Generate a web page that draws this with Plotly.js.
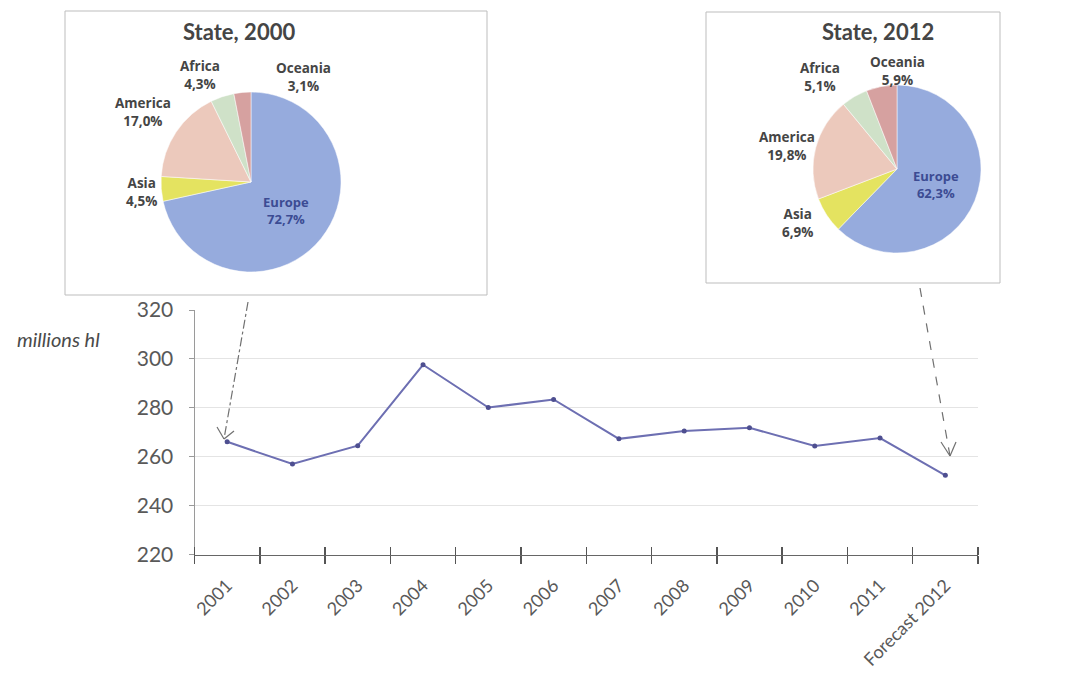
<!DOCTYPE html>
<html>
<head>
<meta charset="utf-8">
<script src="https://cdn.plot.ly/plotly-3.0.1.min.js"></script>
<style>
  html, body { margin: 0; padding: 0; background: #ffffff; }
  #chart { width: 1068px; height: 677px; }
</style>
</head>
<body>
<div id="chart"></div>
<script>
// World wine production, millions of hectolitres
const years = ['2001', '2002', '2003', '2004', '2005', '2006', '2007', '2008', '2009', '2010', '2011', 'Forecast 2012'];
const productionMhl = [266.1, 257.0, 264.5, 297.6, 280.1, 283.4, 267.3, 270.5, 271.8, 264.4, 267.6, 252.4];
const yTicks = [220, 240, 260, 280, 300, 320];

// Regional shares (%) for the two inset pies
const regions = ['Europe', 'Asia', 'America', 'Africa', 'Oceania'];
const share2000 = [72.7, 4.5, 17.0, 4.3, 3.1];
const share2012 = [62.3, 6.9, 19.8, 5.1, 5.9];
const regionColors = ['#96abdd', '#e4e360', '#ecc9bc', '#cfe1c8', '#d6a1a0'];

const W = 1068, H = 677;
const px = x => x / W;            // pixel -> paper x
const py = y => 1 - y / H;        // pixel -> paper y
const pct = v => v.toFixed(1).replace('.', ',') + '%';

const textGrey = '#454545';
const axisGrey = '#595959';
const labelFont = { family: 'Open Sans, DejaVu Sans, sans-serif', size: 13.5, color: textGrey };

// Placement of the outside slice labels in each inset (pixel centres)
const labelSpots2000 = { Asia: [141, 192], America: [143, 112], Africa: [200, 75], Oceania: [303, 77] };
const labelSpots2012 = { Asia: [797, 223], America: [787, 146], Africa: [820, 77], Oceania: [897, 71] };

function pieTrace(values, dom) {
  return {
    type: 'pie',
    labels: regions,
    values: values,
    sort: false,
    direction: 'clockwise',
    rotation: 0,
    marker: { colors: regionColors, line: { color: '#ffffff', width: 0.5 } },
    text: regions.map((r, i) => i === 0 ? '<b>' + r + '<br>' + pct(values[i]) + '</b>' : ''),
    textinfo: 'text',
    textposition: 'inside',
    insidetextorientation: 'horizontal',
    insidetextfont: { family: 'Open Sans, DejaVu Sans, sans-serif', size: 13, color: '#3c4b93' },
    hoverinfo: 'label+value',
    showlegend: false,
    domain: dom
  };
}

function sliceLabels(values, spots) {
  const out = [];
  regions.forEach((r, i) => {
    if (!spots[r]) return;
    out.push({
      xref: 'paper', yref: 'paper',
      x: px(spots[r][0]), y: py(spots[r][1]),
      xanchor: 'center', yanchor: 'middle',
      text: '<b>' + r + '<br>' + pct(values[i]) + '</b>',
      showarrow: false, align: 'center',
      font: labelFont
    });
  });
  return out;
}

const lineTrace = {
  type: 'scatter',
  mode: 'lines+markers',
  x: years,
  y: productionMhl,
  xaxis: 'x', yaxis: 'y',
  line: { color: '#6d6fb2', width: 2 },
  marker: { color: '#4e4f90', size: 5 },
  showlegend: false,
  hoverinfo: 'x+y'
};

// Companion trace on the overlay axis that carries the upward half of the tick marks
const tickCarrier = {
  type: 'scatter',
  mode: 'lines',
  x: years,
  y: productionMhl,
  xaxis: 'x2', yaxis: 'y',
  line: { width: 0, color: 'rgba(0,0,0,0)' },
  opacity: 0,
  hoverinfo: 'skip',
  showlegend: false
};

const plotLeft = 194.5, plotRight = 978, plotTop = 310, plotBottom = 554.5;

const layout = {
  width: W, height: H,
  margin: { l: 0, r: 0, t: 0, b: 0 },
  paper_bgcolor: '#ffffff',
  plot_bgcolor: '#ffffff',
  font: { family: 'Lato, Open Sans, sans-serif', color: axisGrey },
  xaxis: {
    type: 'category',
    categoryorder: 'array', categoryarray: years,
    domain: [px(plotLeft), px(plotRight)],
    anchor: 'y',
    range: [-0.5, years.length - 0.5],
    showline: true, linecolor: '#666666', linewidth: 1.5,
    ticks: 'outside', tickson: 'boundaries', ticklen: 8, tickcolor: '#555555', tickwidth: 1.5,
    tickangle: -45,
    ticklabelstandoff: 12,
    tickfont: { family: 'Lato, Open Sans, sans-serif', size: 18, color: axisGrey },
    showgrid: false, zeroline: false, fixedrange: true
  },
  // same categories, ticks pointing up from the baseline so each tick crosses the axis
  xaxis2: {
    type: 'category',
    categoryorder: 'array', categoryarray: years,
    overlaying: 'x',
    side: 'top',
    anchor: 'free',
    position: py(plotBottom),
    domain: [px(plotLeft), px(plotRight)],
    range: [-0.5, years.length - 0.5],
    ticks: 'outside', tickson: 'boundaries', ticklen: 8, tickcolor: '#555555', tickwidth: 1.5,
    showticklabels: false, showgrid: false, showline: false, zeroline: false, fixedrange: true
  },
  yaxis: {
    domain: [py(plotBottom), py(plotTop)],
    anchor: 'x',
    range: [220, 320],
    tickmode: 'array', tickvals: yTicks,
    showline: true, linecolor: '#9a9a9a', linewidth: 1,
    ticks: 'outside', ticklen: 5, tickcolor: '#9a9a9a',
    ticklabelstandoff: 11,
    tickfont: { family: 'Lato, Open Sans, sans-serif', size: 21, color: axisGrey },
    showgrid: true, gridcolor: '#e4e4e4', gridwidth: 1,
    zeroline: false, fixedrange: true
  },
  shapes: [
    // inset frames
    { type: 'rect', xref: 'paper', yref: 'paper', x0: px(65), x1: px(487), y0: py(295), y1: py(11),
      line: { color: '#bdbdbd', width: 1 }, fillcolor: '#ffffff', layer: 'below' },
    { type: 'rect', xref: 'paper', yref: 'paper', x0: px(706), x1: px(1000), y0: py(283), y1: py(12),
      line: { color: '#bdbdbd', width: 1 }, fillcolor: '#ffffff', layer: 'below' },
    // pointer from the 2000 inset to the first year
    { type: 'line', xref: 'paper', yref: 'paper', x0: px(248), y0: py(302), x1: px(224), y1: py(439),
      line: { color: '#707070', width: 1.2, dash: 'dashdot' }, layer: 'above' },
    { type: 'line', xref: 'paper', yref: 'paper', x0: px(217), y0: py(427), x1: px(224), y1: py(439),
      line: { color: '#707070', width: 1.2 }, layer: 'above' },
    { type: 'line', xref: 'paper', yref: 'paper', x0: px(234), y0: py(431), x1: px(224), y1: py(439),
      line: { color: '#707070', width: 1.2 }, layer: 'above' },
    // pointer from the 2012 inset to the forecast year
    { type: 'line', xref: 'paper', yref: 'paper', x0: px(920), y0: py(288), x1: px(950), y1: py(456),
      line: { color: '#707070', width: 1.2, dash: 'dash' }, layer: 'above' },
    { type: 'line', xref: 'paper', yref: 'paper', x0: px(941), y0: py(442), x1: px(950), y1: py(456),
      line: { color: '#707070', width: 1.2 }, layer: 'above' },
    { type: 'line', xref: 'paper', yref: 'paper', x0: px(956), y0: py(442), x1: px(950), y1: py(456),
      line: { color: '#707070', width: 1.2 }, layer: 'above' }
  ],
  annotations: [
    { xref: 'paper', yref: 'paper', x: px(239), y: py(32), xanchor: 'center', yanchor: 'middle',
      text: '<b>State, 2000</b>', showarrow: false,
      font: { family: 'Lato, Open Sans, sans-serif', size: 22, color: textGrey } },
    { xref: 'paper', yref: 'paper', x: px(878), y: py(32), xanchor: 'center', yanchor: 'middle',
      text: '<b>State, 2012</b>', showarrow: false,
      font: { family: 'Lato, Open Sans, sans-serif', size: 22, color: textGrey } },
    { xref: 'paper', yref: 'paper', x: px(102), y: py(339), xanchor: 'right', yanchor: 'middle',
      text: '<i>millions hl</i>', showarrow: false,
      font: { family: 'Lato, Open Sans, sans-serif', size: 20, color: '#4a4a4a' } }
  ].concat(sliceLabels(share2000, labelSpots2000), sliceLabels(share2012, labelSpots2012))
};

const pie2000 = pieTrace(share2000, { x: [px(161), px(341)], y: [py(272), py(92)] });
const pie2012 = pieTrace(share2012, { x: [px(813), px(981)], y: [py(253), py(85)] });

Plotly.newPlot('chart', [tickCarrier, lineTrace, pie2000, pie2012], layout, { staticPlot: true, displayModeBar: false });
</script>
</body>
</html>
